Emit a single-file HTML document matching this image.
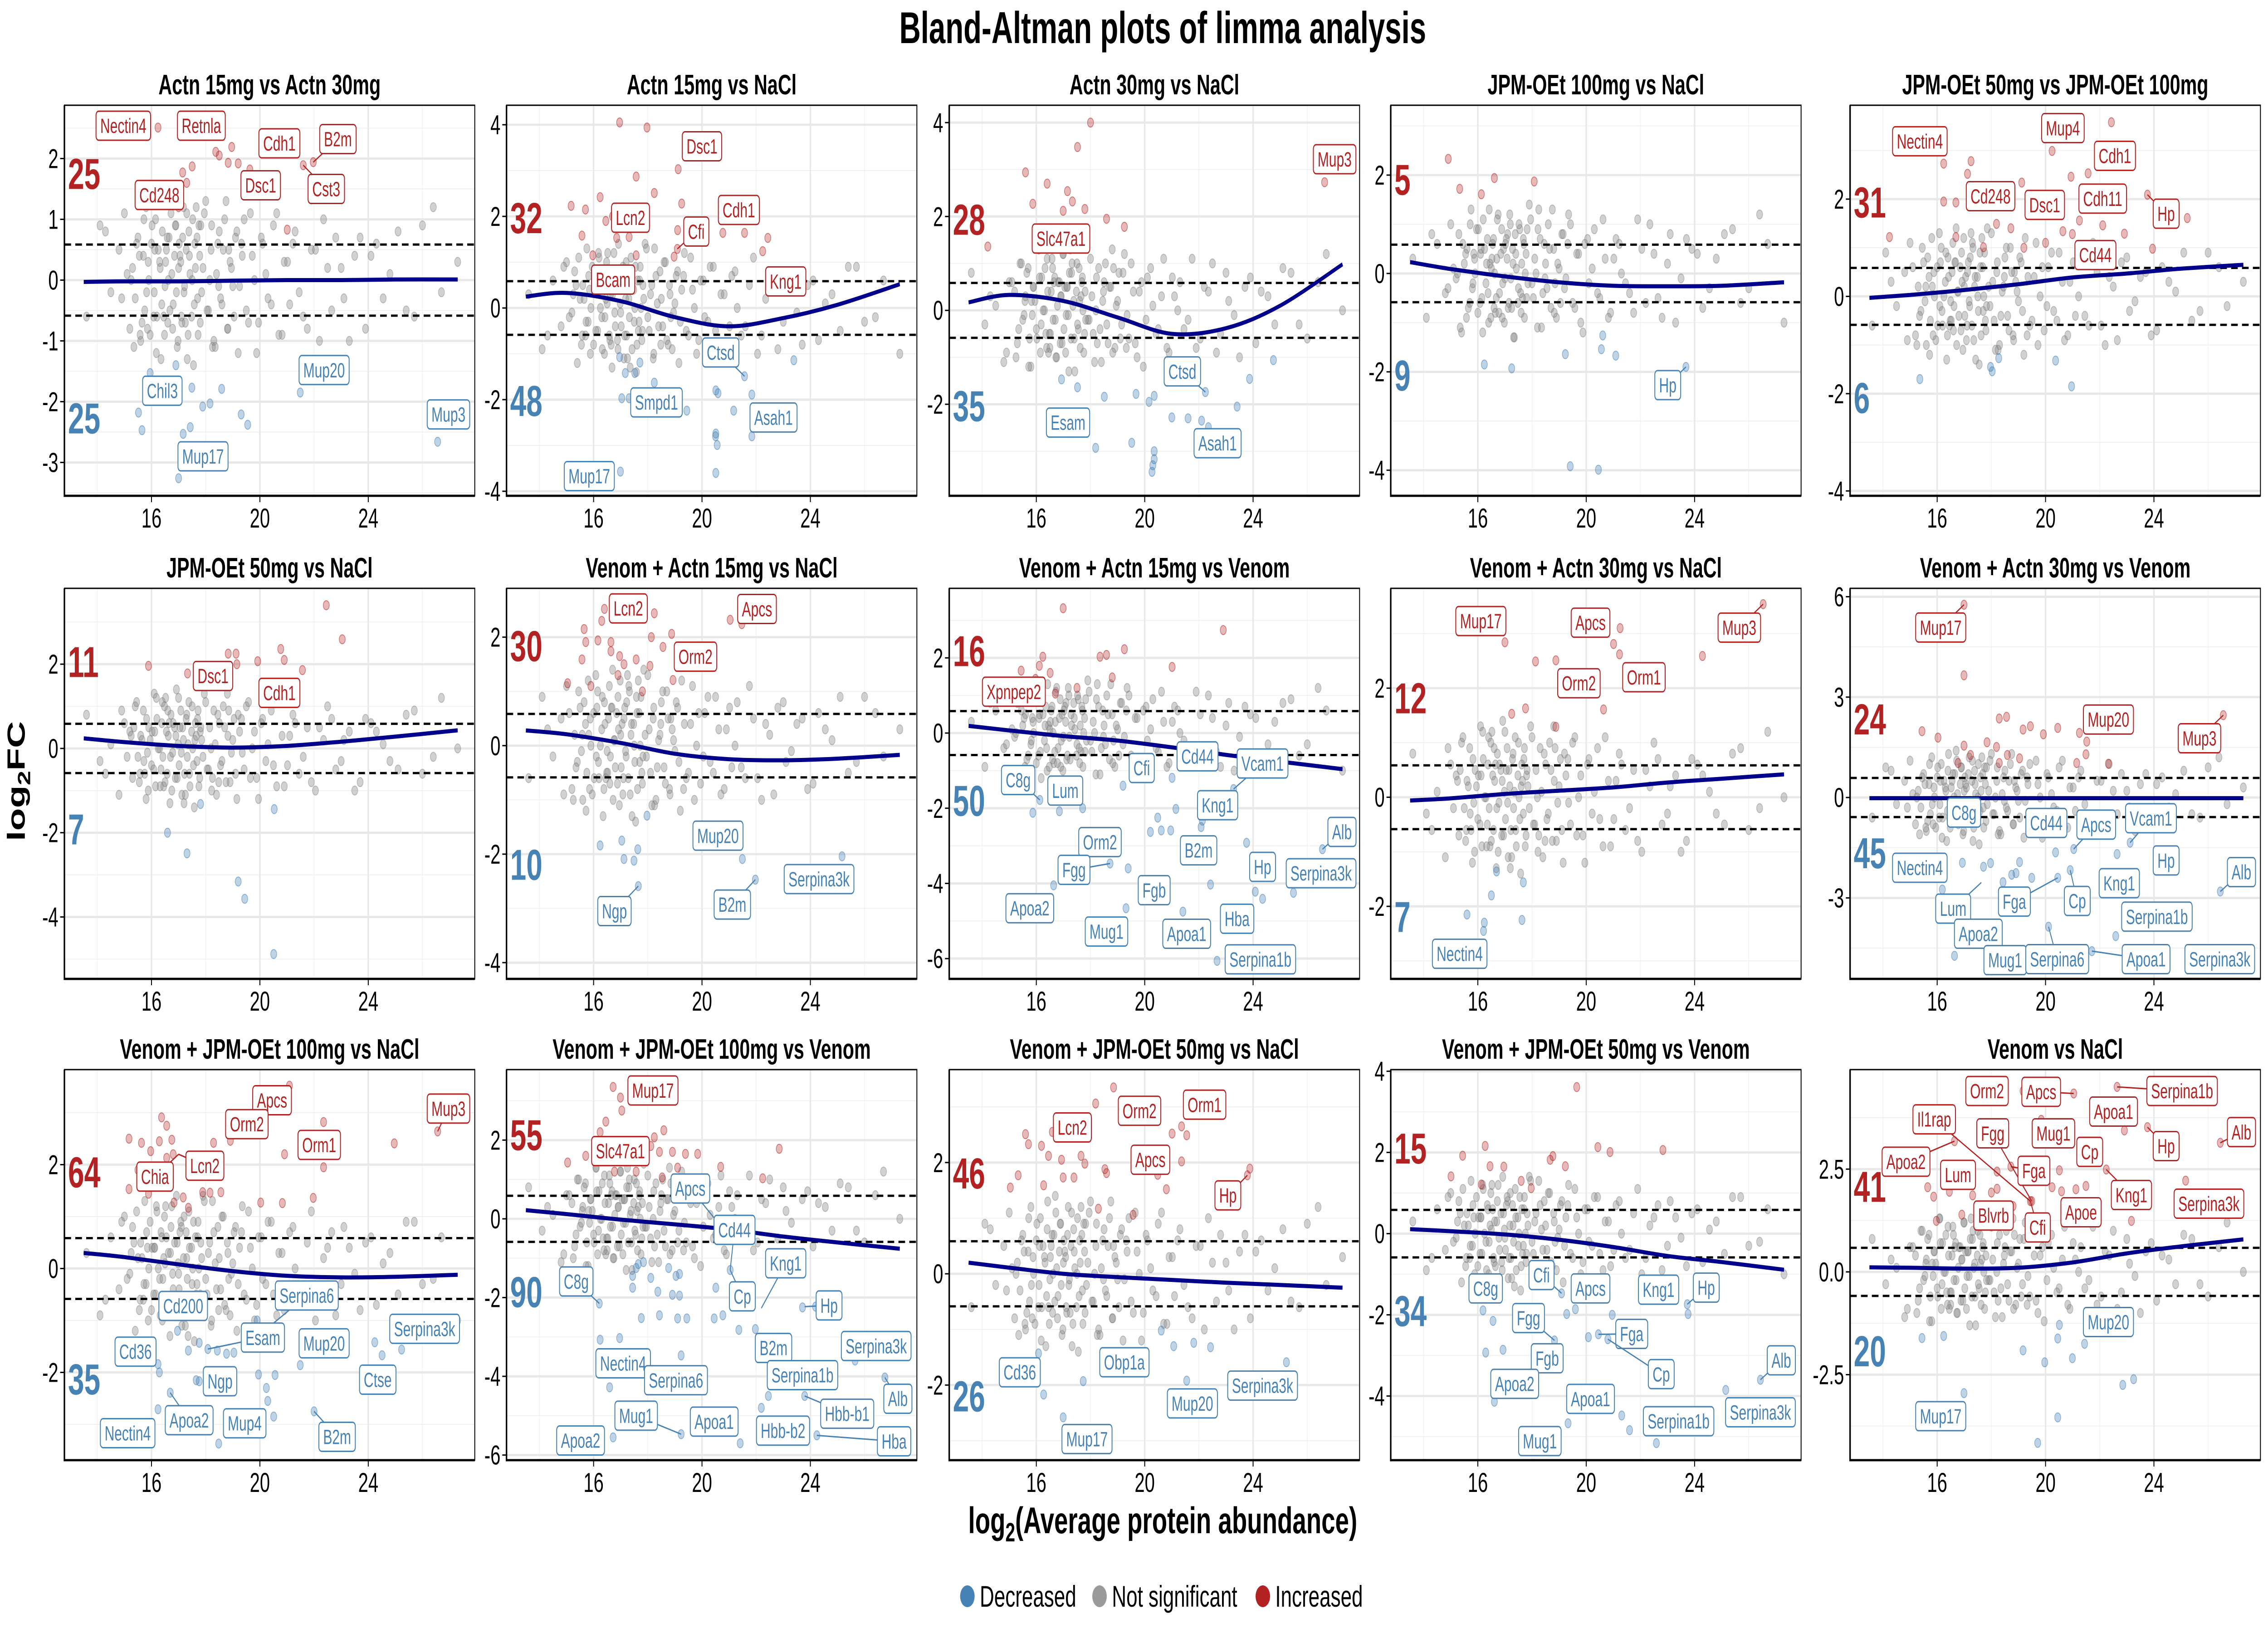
<!DOCTYPE html>
<html><head><meta charset="utf-8"><title>Bland-Altman plots of limma analysis</title>
<style>html,body{margin:0;padding:0;background:#fff;width:100%;height:100%;overflow:hidden}svg{display:block;width:100vw;height:100vh;font-family:"Liberation Sans",Arial,sans-serif}</style>
</head><body>
<svg id="chart" xmlns="http://www.w3.org/2000/svg" viewBox="0 0 7500 3600" preserveAspectRatio="none">
<rect x="0" y="0" width="7500" height="3600" fill="#fff"/>
<text x="3845" y="95" text-anchor="middle" font-size="98" font-weight="bold">Bland-Altman plots of limma analysis</text>
<text x="3845" y="3380" text-anchor="middle" font-size="82" font-weight="bold">log<tspan font-size="58" dy="18">2</tspan><tspan dy="-18">(Average protein abundance)</tspan></text>
<text transform="translate(82,1722) rotate(-90)" text-anchor="middle" font-size="82" font-weight="bold">log<tspan font-size="58" dy="18">2</tspan><tspan dy="-18">FC</tspan></text>
<g>
<circle cx="3199" cy="3519" r="24" fill="#4682B4"/>
<text x="3240" y="3542" font-size="66">Decreased</text>
<circle cx="3636" cy="3519" r="24" fill="#9a9a9a"/>
<text x="3677" y="3542" font-size="66">Not significant</text>
<circle cx="4176" cy="3519" r="24" fill="#B22222"/>
<text x="4217" y="3542" font-size="66">Increased</text>
</g>
</svg>
<script>
const titles=["Actn 15mg vs Actn 30mg","Actn 15mg vs NaCl","Actn 30mg vs NaCl","JPM-OEt 100mg vs NaCl","JPM-OEt 50mg vs JPM-OEt 100mg","JPM-OEt 50mg vs NaCl","Venom + Actn 15mg vs NaCl","Venom + Actn 15mg vs Venom","Venom + Actn 30mg vs NaCl","Venom + Actn 30mg vs Venom","Venom + JPM-OEt 100mg vs NaCl","Venom + JPM-OEt 100mg vs Venom","Venom + JPM-OEt 50mg vs NaCl","Venom + JPM-OEt 50mg vs Venom","Venom vs NaCl"];
const yDomains=[[-3.549,2.877],[-4.099,4.426],[-3.95,4.37],[-4.52,3.42],[-4.10,3.93],[-5.47,3.80],[-4.30,2.90],[-6.54,3.85],[-3.33,3.83],[-5.42,6.25],[-3.69,3.83],[-6.13,3.79],[-3.35,3.67],[-5.58,4.04],[-4.58,4.92]];
const yTicks=[[-3,-2,-1,0,1,2],[-4,-2,0,2,4],[-2,0,2,4],[-4,-2,0,2],[-4,-2,0,2],[-4,-2,0,2],[-4,-2,0,2],[-6,-4,-2,0,2],[-2,0,2],[-3,0,3,6],[-2,0,2],[-6,-4,-2,0,2],[-2,0,2],[-4,-2,0,2,4],[-2.5,0,2.5]];
const yTickLabels=[["-3","-2","-1","0","1","2"],["-4","-2","0","2","4"],["-2","0","2","4"],["-4","-2","0","2"],["-4","-2","0","2"],["-4","-2","0","2"],["-4","-2","0","2"],["-6","-4","-2","0","2"],["-2","0","2"],["-3","0","3","6"],["-2","0","2"],["-6","-4","-2","0","2"],["-2","0","2"],["-4","-2","0","2","4"],["-2.5","0.0","2.5"]];
const xTicks=[16,20,24];
const xTickLabels=["16","20","24"];
const xMinor=[14,18,22,26];
const foldLine=0.585;
const countUp=[25,32,28,5,31,11,30,16,12,24,64,55,46,15,41];
const countDown=[25,48,35,9,6,7,10,50,7,45,35,90,26,34,20];
const countUpY=[1.76,1.98,1.95,1.92,1.95,2.07,1.85,2.20,1.83,2.36,1.87,2.15,1.82,2.12,2.09];
const countDownY=[-2.26,-2.01,-2.02,-2.06,-2.07,-1.90,-2.18,-1.78,-2.18,-1.64,-2.12,-1.84,-2.19,-1.89,-1.91];
const loessX=[13.5,15,17,19,21,23,25,27.3];
const loessY=[
[-0.03,-0.02,-0.02,-0.01,0,0,0.01,0.01],
[0.25,0.33,0.15,-0.2,-0.4,-0.22,0.07,0.52],
[0.17,0.33,0.2,-0.15,-0.5,-0.38,0.1,0.98],
[0.23,0.09,-0.06,-0.18,-0.25,-0.26,-0.25,-0.18],
[-0.03,0.03,0.13,0.25,0.39,0.47,0.57,0.65],
[0.24,0.15,0.06,0.02,0.06,0.16,0.28,0.43],
[0.28,0.21,0.05,-0.15,-0.25,-0.27,-0.24,-0.17],
[0.19,0.07,-0.08,-0.2,-0.38,-0.58,-0.76,-0.96],
[-0.06,-0.02,0.06,0.12,0.18,0.27,0.34,0.42],
[-0.02,-0.02,-0.02,-0.02,-0.02,-0.02,-0.02,-0.02],
[0.30,0.22,0.08,-0.05,-0.14,-0.17,-0.16,-0.12],
[0.22,0.12,-0.02,-0.14,-0.27,-0.45,-0.6,-0.76],
[0.2,0.11,0,-0.06,-0.11,-0.16,-0.2,-0.25],
[0.11,0.06,-0.02,-0.15,-0.33,-0.55,-0.7,-0.89],
[0.11,0.1,0.08,0.1,0.23,0.45,0.62,0.79]];
const cloudX=[13.6,14.1,14.5,14.8,15.0,15.2,15.3,15.4,15.5,15.6,15.7,15.75,15.8,15.9,15.95,16.0,16.1,16.15,16.2,16.3,16.35,16.4,16.5,16.55,16.6,16.7,16.75,16.8,16.9,16.95,17.0,17.1,17.15,17.2,17.3,17.35,17.4,17.5,17.55,17.6,17.7,17.75,17.8,17.9,18.0,18.1,18.2,18.3,18.4,18.5,18.6,18.7,18.8,18.9,19.0,19.1,19.2,19.35,19.5,19.65,19.8,19.95,20.1,20.3,20.5,20.7,20.9,21.1,21.3,21.6,21.9,22.2,22.5,22.8,23.1,23.5,23.9,24.3,24.8,25.4,26.0,26.7,27.3,16.45,17.05,17.65,18.25,18.85,15.85,16.65];
const cloudX2=[14.3,14.9,15.1,15.35,15.45,15.55,15.65,15.72,15.82,15.88,16.02,16.08,16.18,16.25,16.32,16.38,16.42,16.48,16.58,16.62,16.68,16.72,16.78,16.85,16.88,16.92,16.98,17.02,17.08,17.12,17.18,17.22,17.28,17.32,17.38,17.42,17.48,17.52,17.58,17.62,17.68,17.72,17.78,17.85,17.95,18.05,18.15,18.22,18.35,18.45,18.55,18.65,18.75,18.82,18.95,19.05,19.15,19.25,19.42,19.58,19.72,19.88,20.05,20.22,20.42,20.62,20.82,21.02,21.22,21.45,21.75,22.05,22.35,22.65,23.0,23.3,23.7,24.1,24.55,25.1,25.7,26.4,15.25,15.58,16.12,16.52,17.25,17.82,18.48,19.32];
const cloudA=[-0.6,0.9,-0.2,0.5,1.1,-0.8,0.2,-0.3,0.7,-1.0,0.4,-0.5,1.2,0.0,-0.9,0.6,-0.2,1.0,-0.6,0.3,-1.3,0.8,-0.1,0.5,-0.7,1.4,0.1,-0.4,0.9,-1.1,0.2,-0.6,0.7,-0.2,1.1,-0.9,0.4,0.0,-1.4,0.6,-0.3,0.9,-0.7,0.2,1.3,-0.5,0.5,-1.0,0.1,0.8,-0.4,1.0,-0.8,0.3,-0.1,0.7,-1.2,0.4,-0.5,1.1,0.0,-0.7,0.6,-0.3,0.9,-0.9,0.3,-0.4,0.8,-0.6,0.5,-1.0,0.2,0.7,-0.3,0.4,-0.8,0.6,0.1,-0.5,0.9,-0.2,0.3,-0.6,0.4,1.2,-1.1,0.5,-0.8,0.7];
const cloudB=[0.3,-0.9,0.6,-0.4,1.0,-0.1,0.8,-1.2,0.2,0.5,-0.6,1.3,-0.3,0.0,0.9,-0.8,0.4,-0.5,1.1,-0.2,0.7,-1.0,0.1,0.6,-0.7,0.3,1.2,-0.4,-0.9,0.5,-0.1,0.8,-0.6,1.0,0.2,-1.3,0.4,-0.3,0.9,-0.8,0.6,0.0,-0.5,1.4,-0.2,0.3,-1.1,0.7,-0.4,0.2,1.0,-0.7,0.5,-0.9,0.1,0.8,-0.3,1.2,-0.6,0.4,-1.0,0.6,-0.2,0.9,-0.5,0.3,-0.8,0.7,0.0,-0.4,1.1,-0.6,0.4,-0.9,0.8,-0.1,0.5,-0.7,0.3,0.9,-0.3,0.6,-1.0,0.2,0.7,-0.5,1.3,-0.2,0.4,-0.8];
const cloudC=[0.8,-0.3,0.1,-1.1,0.6,0.4,-0.7,1.0,-0.2,0.3,0.9,-0.6,-1.2,0.5,0.2,-0.4,1.3,-0.9,0.7,0.0,-0.5,1.1,-0.8,0.4,0.9,-0.2,-1.0,0.6,0.3,-0.7,1.2,-0.1,0.5,-1.3,0.8,0.1,-0.6,1.0,-0.4,0.2,0.7,-0.9,0.4,-0.2,1.1,-0.5,0.0,0.9,-1.1,0.6,-0.3,0.5,1.3,-0.8,0.2,-0.6,0.8,-0.1,1.0,-0.7,0.4,-1.2,0.7,0.1,-0.4,1.1,-0.9,0.3,0.6,-0.2,-0.8,0.5,1.0,-0.5,0.2,-1.0,0.7,0.4,-0.3,0.8,-0.6,1.2,0.0,-0.9,0.5,0.3,-0.7,0.9,-0.1,0.6];
const clouds=[cloudA,cloudB,cloudC];
const panelCloud=[0,1,2,1,0,2,0,1,2,0,1,2,0,1,2];
const panelCloud2=[2,0,1,2,1,0,1,2,0,2,0,1,2,0,1];
const upPts=[
[16.24,2.51,18.37,2.11,18.5,2.05,18.83,1.93,19.2,1.92,17.15,1.77,17.5,1.87,21.01,0.83,17.3,1.6,21.97,1.94,21.6,1.89,19.63,1.82,18.96,2.19,17.0,1.2,17.6,2.6],
[16.96,4.05,17.97,3.94,17.57,2.87,18.24,2.51,19.12,3.03,19.25,2.28,15.17,2.23,15.7,2.15,16.24,2.42,16.45,1.9,15.57,1.58,16.85,1.53,17.31,1.55,19.1,1.7,18.97,1.12,20.77,1.64,21.57,1.64,22.43,1.53,22.24,1.24,17.57,1.15,15.97,1.15,19.09,1.29,16.7,2.0],
[18.0,4.0,17.52,3.48,15.6,2.94,16.4,2.7,17.15,2.54,17.33,2.32,16.99,2.12,15.87,2.27,17.79,2.16,18.59,1.95,19.25,1.78,14.21,1.36,26.64,2.73,16.8,1.4],
[14.91,2.33,15.33,1.72,16.13,1.61,16.61,1.94,18.08,1.87],
[22.43,3.58,20.24,2.99,17.25,2.78,16.24,2.73,17.12,2.52,19.12,2.34,21.57,2.53,20.94,2.46,16.69,1.93,16.24,1.95,18.19,1.49,18.72,1.4,21.25,1.56,22.11,1.46,20.64,1.34,20.99,1.28,22.91,1.29,14.24,1.22,16.69,1.22,17.71,1.01,23.95,0.98,25.23,1.61,23.76,2.09,19.2,1.0,20.0,1.1],
[22.45,3.4,23.04,2.59,20.77,2.36,18.83,2.25,19.12,2.25,19.92,2.07,21.57,1.86,19.15,2.0,17.33,1.78,15.89,1.96,20.9,2.1],
[16.4,2.52,16.3,2.3,15.65,2.15,18.24,2.44,21.04,2.32,21.47,2.24,18.88,2.06,18.13,2.0,15.71,1.91,16.16,1.94,16.64,1.91,16.64,1.74,16.96,1.65,17.57,1.59,17.12,1.5,18.08,1.47,18.56,1.82,18.93,1.21,15.04,1.15,15.57,1.59,16.9,1.3,17.8,1.0,15.9,1.1],
[16.99,3.32,16.24,2.03,16.11,1.79,15.44,1.66,16.51,1.6,15.97,1.44,19.25,2.23,18.59,2.08,18.35,2.03,18.8,1.48,21.01,1.76,22.9,2.74,17.5,1.2,16.7,1.05],
[26.53,3.54,17.0,2.84,18.13,2.49,18.88,2.51,21.25,3.1,21.01,2.81,21.23,2.62,24.29,2.59,20.64,1.61,17.76,1.63,17.25,1.53,18.88,1.29],
[16.99,5.76,16.99,3.65,15.44,1.98,16.03,1.79,16.99,1.55,17.23,1.27,16.77,1.03,17.84,1.65,18.29,2.36,18.56,2.41,19.17,2.03,19.44,2.13,19.92,1.89,20.45,2.08,21.25,1.93,21.52,1.67,21.49,1.29,21.15,1.03,22.32,1.01,18.59,1.27,19.04,1.17,18.29,1.03,18.19,1.51,26.56,2.46],
[16.37,2.91,16.56,2.75,15.17,2.5,15.63,2.42,16.29,2.45,16.75,2.48,15.97,2.26,16.56,2.13,15.17,1.53,15.89,1.44,16.83,1.27,17.17,1.37,17.89,1.47,18.16,1.46,18.56,1.47,17.36,1.17,18.29,2.42,18.91,2.46,20.91,2.2,22.35,1.95,22.35,2.82,24.96,2.41,21.97,1.36,20.03,1.27,20.83,1.26,21.09,3.52,26.56,2.64,16.8,2.2,17.6,1.8,15.5,1.9],
[16.72,3.35,16.99,3.08,17.04,2.75,16.45,2.47,16.24,2.2,16.29,1.7,15.71,1.6,15.04,1.43,18.59,2.25,18.24,2.07,18.11,1.85,18.43,1.7,18.91,1.7,19.39,1.65,19.84,1.65,18.53,1.05,20.69,1.32,22.24,1.03,22.85,1.78,17.57,1.2,16.77,1.2,18.19,3.1,17.3,1.5,19.1,1.3],
[18.85,3.35,18.19,3.06,15.6,2.51,15.71,2.33,16.19,2.3,16.45,2.12,16.59,2.55,17.65,2.12,16.93,2.05,17.79,1.98,18.53,1.88,18.59,1.81,16.99,1.73,17.39,1.73,16.27,1.59,15.04,1.55,15.33,1.77,18.29,1.17,19.57,1.06,21.01,2.52,21.36,2.65,21.55,2.49,21.36,2.02,20.8,1.52,20.48,1.78,23.88,1.89,23.79,1.77],
[19.65,3.61,16.27,2.16,15.44,1.92,15.01,1.41,16.45,1.66,16.96,1.65,16.13,1.21,17.97,1.12,18.67,1.82,18.77,1.91,19.23,1.66,20.43,2.13,20.88,2.01,22.83,2.06,17.6,1.3],
[19.17,4.4,21.04,4.34,22.64,4.5,26.45,3.14,23.76,3.52,16.64,3.18,19.84,3.7,21.84,3.65,22.91,3.44,20.51,2.47,22.24,2.49,25.17,2.22,18.72,2.56,15.65,2.06,16.45,1.95,15.87,1.83,18.21,2.44,19.44,1.72,18.21,2.02,18.0,1.93,20.24,2.06,20.59,1.96,21.12,2.01,21.49,2.09,19.49,1.72,16.91,1.39,15.97,1.24,23.17,1.24,17.31,1.86,17.6,1.4,18.8,1.6]];
const downPts=[
[15.95,-1.53,21.49,-1.85,17.0,-3.26,26.56,-2.66,15.52,-2.18,15.65,-2.47,17.17,-2.53,17.43,-2.42,17.89,-2.08,18.16,-2.03,19.31,-2.21,19.55,-2.38,18.59,-1.79,17.49,-1.77,16.9,-1.4],
[16.96,-1.07,17.71,-1.19,17.17,-1.42,17.52,-1.42,18.24,-1.63,17.04,-1.97,19.44,-2.24,20.51,-1.8,20.59,-1.86,20.51,-2.74,20.56,-2.99,21.84,-2.8,21.17,-2.24,23.39,-1.14,20.51,-3.6,20.5,-2.8,21.57,-1.49,21.84,-1.89,16.99,-3.57,17.31,-1.97],
[17.52,-1.64,18.51,-1.84,16.93,-1.47,19.52,-2.82,18.19,-2.93,19.68,-1.78,20.35,-1.82,20.16,-1.95,21.0,-2.28,21.6,-2.3,22.1,-2.35,23.41,-2.05,23.87,-1.46,24.75,-1.06,20.35,-3.0,20.35,-3.17,20.3,-3.3,20.27,-3.44,22.24,-1.74,22.35,-2.49],
[16.24,-1.85,17.25,-1.93,19.23,-1.64,20.56,-1.54,21.09,-1.67,20.61,-1.26,19.41,-3.92,20.45,-3.99,23.68,-1.9],
[15.36,-1.7,18.27,-1.27,17.97,-1.45,18.03,-1.54,20.37,-1.32,20.96,-1.85],
[17.81,-1.32,16.59,-2.0,17.31,-2.49,19.2,-3.16,19.44,-3.57,20.53,-1.44,20.51,-4.88],
[16.24,-1.84,17.04,-1.75,17.63,-1.91,17.97,-1.29,17.12,-2.09,17.49,-2.12,17.65,-2.59,21.49,-2.09,21.97,-2.47,25.17,-2.04],
[16.13,-1.78,16.85,-2.08,15.87,-2.12,17.71,-2.0,19.2,-1.4,19.39,-3.6,19.31,-4.66,16.64,-4.05,18.72,-3.47,20.21,-2.63,20.61,-2.59,20.96,-2.59,20.48,-2.25,21.15,-2.02,22.08,-2.5,22.13,-2.33,23.76,-2.92,24.35,-4.41,24.08,-4.22,25.49,-4.25,22.67,-6.06,21.41,-4.75,22.43,-4.03,20.21,-1.19,21.01,-1.19,26.56,-3.09,23.28,-1.49],
[15.6,-2.15,16.24,-2.3,16.21,-2.45,17.63,-2.25,16.69,-1.36,17.68,-1.56,16.5,-1.8],
[16.93,-1.95,17.97,-1.96,17.71,-2.07,20.37,-1.64,20.45,-2.4,20.91,-2.17,21.04,-1.54,23.12,-1.35,26.45,-2.81,19.49,-2.4,19.04,-1.93,18.91,-2.26,18.75,-2.31,18.43,-2.53,16.19,-2.75,16.64,-4.73,22.59,-4.14,20.11,-3.86,22.64,-1.69,21.71,-4.59],
[16.96,-1.2,17.36,-1.58,17.76,-1.43,18.08,-1.55,18.43,-1.58,18.77,-1.64,19.04,-1.62,16.24,-1.84,16.29,-2.0,17.65,-2.15,17.76,-2.17,19.95,-2.04,20.56,-2.05,20.29,-2.55,20.24,-2.3,21.49,-1.86,25.23,-1.56,24.51,-1.67,24.24,-1.42,16.24,-2.71,18.48,-3.37,20.51,-2.85,22.0,-2.75,16.69,-2.39,19.9,-1.0],
[17.44,-1.75,17.65,-1.15,17.84,-1.1,17.57,-1.25,18.11,-1.5,18.77,-1.25,19.04,-1.45,19.17,-1.4,17.44,-1.45,18.37,-1.85,18.91,-1.93,19.17,-1.95,17.76,-2.52,18.43,-2.45,19.1,-2.53,19.44,-2.53,20.45,-2.53,20.77,-2.45,21.36,-2.82,21.97,-2.8,20.51,-1.75,16.21,-2.15,16.24,-3.07,16.96,-3.03,16.59,-4.28,19.23,-3.47,21.04,-1.3,24.19,-2.23,23.71,-2.25,26.75,-4.03,23.79,-4.5,22.45,-4.5,22.19,-4.8,19.23,-5.47,16.72,-5.55,21.41,-5.7,24.24,-5.5,25.65,-3.6],
[16.08,-1.43,16.27,-2.17,16.99,-2.58,17.73,-1.93,20.61,-1.02,21.07,-1.3,21.81,-1.24,22.43,-1.32,21.55,-1.92,25.23,-1.59],
[19.09,-1.47,16.19,-1.89,16.56,-2.15,19.28,-1.98,19.6,-1.86,22.24,-1.62,23.76,-1.98,20.45,-2.48,20.8,-2.6,20.08,-2.55,18.83,-2.63,16.29,-2.93,16.93,-2.86,16.61,-4.14,19.33,-4.67,21.31,-4.48,21.6,-4.84,22.59,-5.16,25.15,-3.85,26.43,-3.6,20.96,-2.0,23.73,-1.74],
[15.44,-1.61,16.24,-1.56,19.17,-1.91,19.97,-2.2,20.51,-1.29,20.45,-1.62,20.99,-2.1,21.44,-1.75,16.99,-2.95,22.85,-2.75,23.25,-2.61,20.45,-3.54,19.71,-4.16]];
const N=null;
const labels=[
[["Nectin4",14.96,2.54,N,N,1],["Retnla",17.84,2.54,N,N,1],["Cdh1",20.72,2.25,N,N,1],["B2m",22.88,2.32,21.97,1.94,1],["Dsc1",20.03,1.56,N,N,1],["Cst3",22.45,1.5,21.6,1.89,1],["Cd248",16.29,1.4,N,N,1],["Chil3",16.4,-1.82,N,N,0],["Mup20",22.37,-1.48,N,N,0],["Mup17",17.9,-2.9,N,N,0],["Mup3",26.96,-2.21,N,N,0]],
[["Dsc1",20.0,3.53,N,N,1],["Lcn2",17.36,1.97,N,N,1],["Cdh1",21.36,2.14,N,N,1],["Cfi",19.79,1.67,19.09,1.29,1],["Bcam",16.72,0.62,N,N,1],["Kng1",23.09,0.58,N,N,1],["Ctsd",20.69,-0.97,21.57,-1.49,0],["Smpd1",18.32,-2.06,N,N,0],["Asah1",22.64,-2.39,N,N,0],["Mup17",15.84,-3.67,N,N,0]],
[["Slc47a1",16.91,1.53,N,N,1],["Mup3",27.01,3.22,N,N,1],["Esam",17.17,-2.39,N,N,0],["Ctsd",21.39,-1.3,22.24,-1.74,0],["Asah1",22.69,-2.83,N,N,0]],
[["Hp",23.01,-2.27,23.68,-1.9,0]],
[["Nectin4",15.36,3.19,N,N,1],["Mup4",20.64,3.46,N,N,1],["Cdh1",22.56,2.89,N,N,1],["Cd248",17.97,2.06,N,N,1],["Dsc1",19.97,1.88,N,N,1],["Cdh11",22.11,2.01,N,N,1],["Hp",24.45,1.7,23.76,2.09,1],["Cd44",21.84,0.85,N,N,1]],
[["Dsc1",18.27,1.72,N,N,1],["Cdh1",20.72,1.32,N,N,1]],
[["Lcn2",17.28,2.53,N,N,1],["Apcs",22.03,2.52,N,N,1],["Orm2",19.76,1.64,N,N,1],["Mup20",20.59,-1.66,N,N,0],["Ngp",16.77,-3.05,17.65,-2.59,0],["B2m",21.12,-2.93,21.97,-2.47,0],["Serpina3k",24.32,-2.46,N,N,0]],
[["Xpnpep2",15.17,1.1,N,N,1],["C8g",15.33,-1.25,16.13,-1.78,0],["Lum",17.07,-1.53,N,N,0],["Cfi",19.89,-0.93,N,N,0],["Cd44",21.95,-0.62,N,N,0],["Vcam1",24.35,-0.81,23.28,-1.49,0],["Orm2",18.35,-2.9,N,N,0],["Fgg",17.39,-3.64,18.72,-3.47,0],["Kng1",22.69,-1.92,N,N,0],["B2m",21.99,-3.12,N,N,0],["Hp",24.35,-3.56,N,N,0],["Alb",27.28,-2.63,26.56,-3.09,0],["Serpina3k",26.51,-3.73,N,N,0],["Fgb",20.35,-4.18,N,N,0],["Hba",23.41,-4.94,N,N,0],["Apoa2",15.76,-4.66,N,N,0],["Apoa1",21.55,-5.34,N,N,0],["Mug1",18.59,-5.28,N,N,0],["Serpina1b",24.27,-6.02,N,N,0]],
[["Mup17",16.11,3.23,N,N,1],["Apcs",20.16,3.2,N,N,1],["Mup3",25.65,3.11,26.53,3.54,1],["Orm2",19.73,2.09,N,N,1],["Orm1",22.13,2.2,N,N,1],["Nectin4",15.33,-2.87,N,N,0]],
[["Mup17",16.13,5.08,16.99,5.76,1],["Mup20",22.32,2.33,N,N,1],["Mup3",25.68,1.77,26.56,2.46,1],["C8g",16.99,-0.45,N,N,0],["Cd44",20.03,-0.76,N,N,0],["Apcs",21.87,-0.81,21.04,-1.54,0],["Vcam1",23.89,-0.62,23.12,-1.35,0],["Nectin4",15.36,-2.1,N,N,0],["Hp",24.45,-1.88,N,N,0],["Alb",27.23,-2.23,26.45,-2.81,0],["Kng1",22.72,-2.56,N,N,0],["Fga",18.85,-3.11,20.45,-2.4,0],["Cp",21.17,-3.09,20.91,-2.17,0],["Lum",16.59,-3.32,17.63,-2.54,0],["Serpina1b",24.11,-3.56,N,N,0],["Apoa2",17.52,-4.07,N,N,0],["Mug1",18.51,-4.86,N,N,0],["Serpina6",20.43,-4.83,20.11,-3.86,0],["Apoa1",23.71,-4.83,21.71,-4.59,0],["Serpina3k",26.43,-4.83,N,N,0]],
[["Apcs",20.45,3.24,N,N,1],["Orm2",19.52,2.78,N,N,1],["Mup3",26.96,3.08,26.56,2.64,1],["Orm1",22.19,2.38,N,N,1],["Lcn2",17.97,1.98,17.0,2.2,1],["Chia",16.13,1.77,17.0,2.2,1],["Cd200",17.17,-0.72,N,N,0],["Serpina6",21.73,-0.52,20.51,-1.05,0],["Esam",20.11,-1.33,18.08,-1.55,0],["Cd36",15.41,-1.6,N,N,0],["Mup20",22.37,-1.44,N,N,0],["Serpina3k",26.08,-1.16,N,N,0],["Ngp",18.53,-2.17,N,N,0],["Ctse",24.35,-2.14,N,N,0],["Apoa2",17.39,-2.92,16.69,-2.39,0],["Mup4",19.44,-2.98,N,N,0],["Nectin4",15.12,-3.17,N,N,0],["B2m",22.85,-3.24,22.0,-2.75,0]],
[["Mup17",18.19,3.26,N,N,1],["Slc47a1",16.99,1.72,N,N,1],["Apcs",19.57,0.77,20.77,-0.25,0],["Cd44",21.2,-0.28,21.04,-1.3,0],["C8g",15.36,-1.59,16.21,-2.15,0],["Kng1",23.09,-1.13,22.19,-2.27,0],["Cp",21.49,-1.97,21.04,-1.3,0],["Hp",24.69,-2.2,23.79,-2.23,0],["B2m",22.64,-3.28,N,N,0],["Serpina3k",26.43,-3.23,N,N,0],["Nectin4",17.09,-3.67,N,N,0],["Serpina6",19.04,-4.1,N,N,0],["Serpina1b",23.71,-3.97,N,N,0],["Alb",27.23,-4.57,26.75,-4.03,0],["Hbb-b1",25.36,-4.95,23.79,-4.5,0],["Mug1",17.57,-5.0,19.23,-5.47,0],["Apoa1",20.45,-5.15,N,N,0],["Hbb-b2",22.99,-5.38,N,N,0],["Hba",27.09,-5.65,24.24,-5.5,0],["Apoa2",15.52,-5.63,N,N,0]],
[["Lcn2",17.33,2.63,N,N,1],["Orm2",19.81,2.93,N,N,1],["Orm1",22.21,3.04,N,N,1],["Apcs",20.21,2.05,N,N,1],["Hp",23.07,1.41,23.79,1.77,1],["Cd36",15.39,-1.77,N,N,0],["Obp1a",19.25,-1.59,N,N,0],["Mup17",17.87,-2.97,N,N,0],["Mup20",21.76,-2.33,N,N,0],["Serpina3k",24.35,-2.01,N,N,0]],
[["Cfi",18.35,-1.02,19.09,-1.47,0],["C8g",16.29,-1.35,N,N,0],["Apcs",20.16,-1.35,N,N,0],["Kng1",22.67,-1.38,N,N,0],["Hp",24.43,-1.33,23.73,-1.74,0],["Fgg",17.87,-2.08,18.83,-2.63,0],["Fga",21.68,-2.47,20.45,-2.48,0],["Fgb",18.56,-3.07,N,N,0],["Cp",22.77,-3.46,20.8,-2.6,0],["Alb",27.2,-3.12,26.43,-3.6,0],["Apoa2",17.36,-3.7,N,N,0],["Apoa1",20.16,-4.07,N,N,0],["Serpina1b",23.41,-4.62,N,N,0],["Serpina3k",26.43,-4.4,N,N,0],["Mug1",18.29,-5.11,N,N,0]],
[["Orm2",17.84,4.4,N,N,1],["Apcs",19.84,4.38,21.04,4.34,1],["Serpina1b",25.04,4.4,22.64,4.5,1],["Il1rap",15.89,3.71,19.44,1.72,1],["Apoa1",22.51,3.9,N,N,1],["Alb",27.23,3.4,26.45,3.14,1],["Fgg",18.05,3.37,19.49,1.72,1],["Mug1",20.29,3.37,N,N,1],["Cp",21.63,2.92,N,N,1],["Hp",24.45,3.06,23.76,3.52,1],["Apoa2",14.85,2.68,16.64,3.18,1],["Lum",16.77,2.36,N,N,1],["Fga",19.57,2.46,18.72,2.56,1],["Kng1",23.17,1.87,22.24,2.49,1],["Serpina3k",26.03,1.66,N,N,1],["Blvrb",18.08,1.37,N,N,1],["Apoe",21.31,1.45,N,N,1],["Cfi",19.71,1.08,19.44,1.72,1],["Mup20",22.32,-1.22,N,N,0],["Mup17",16.13,-3.51,N,N,0]]];

const NS='http://www.w3.org/2000/svg';
const svg=document.getElementById('chart');
const colLeft=[213,1675,3139,4599,6118], rowTop=[232,1297,2358], PW=1357, PH=861;
const RED='#B22222', BLUE='#4682B4';
function mk(tag,attrs,parent){const e=document.createElementNS(NS,tag);for(const k in attrs)e.setAttribute(k,attrs[k]);parent.appendChild(e);return e;}
function smooth(pts){let d='M'+pts[0][0].toFixed(1)+','+pts[0][1].toFixed(1);for(let i=0;i<pts.length-1;i++){const p0=pts[i-1]||pts[i],p1=pts[i],p2=pts[i+1],p3=pts[i+2]||p2;const c1=[p1[0]+(p2[0]-p0[0])/6,p1[1]+(p2[1]-p0[1])/6],c2=[p2[0]-(p3[0]-p1[0])/6,p2[1]-(p3[1]-p1[1])/6];d+=' C'+c1[0].toFixed(1)+','+c1[1].toFixed(1)+' '+c2[0].toFixed(1)+','+c2[1].toFixed(1)+' '+p2[0].toFixed(1)+','+p2[1].toFixed(1);}return d;}

for(let p=0;p<15;p++){
  const L=colLeft[p%5], T=rowTop[Math.floor(p/5)];
  const [y0,y1]=yDomains[p];
  const xs=x=>L+288+(x-16)*89.6;
  const ys=y=>T+(y1-y)/(y1-y0)*PH;
  const g=mk('g',{},svg);
  
  
  const cp=mk('clipPath',{id:'clip'+p},g);
  mk('rect',{x:L,y:T,width:PW,height:PH},cp);
  const title=mk('text',{x:L+PW/2,y:T-24,'text-anchor':'middle','font-size':62,'font-weight':'bold'},g);
  
  
  title.textContent=titles[p];
  const grid=mk('g',{'clip-path':'url(#clip'+p+')'},g);
  
  
  const tk=yTicks[p], step=tk[1]-tk[0];
  const minors=[];
  for(let v=tk[0]-step/2; v<=tk[tk.length-1]+step/2+1e-9; v+=step) if(v>y0&&v<y1) minors.push(v);
  minors.forEach(v=>{const l=mk('line',{x1:L,x2:L+PW,y1:ys(v),y2:ys(v),stroke:'#f0f0f0','stroke-width':2},grid);});
  xMinor.forEach(v=>{const l=mk('line',{x1:xs(v),x2:xs(v),y1:T,y2:T+PH,stroke:'#f0f0f0','stroke-width':2},grid);});
  tk.forEach(v=>{const l=mk('line',{x1:L,x2:L+PW,y1:ys(v),y2:ys(v),stroke:'#e8e8e8','stroke-width':5},grid);});
  xTicks.forEach(v=>{const l=mk('line',{x1:xs(v),x2:xs(v),y1:T,y2:T+PH,stroke:'#e8e8e8','stroke-width':5},grid);});
  const pts=mk('g',{'clip-path':'url(#clip'+p+')'},g);
  
  
  const cy=clouds[panelCloud[p]];
  for(let i=0;i<cloudX.length;i++){const c=mk('circle',{cx:xs(cloudX[i]).toFixed(1),cy:ys(cy[i]).toFixed(1),r:10,fill:'rgba(140,140,140,0.4)',stroke:'rgba(110,110,110,0.4)','stroke-width':2},pts);}
  const cy2=clouds[panelCloud2[p]];
  for(let i=0;i<cloudX2.length;i++){const c=mk('circle',{cx:xs(cloudX2[i]).toFixed(1),cy:ys(cy2[i]).toFixed(1),r:10,fill:'rgba(140,140,140,0.4)',stroke:'rgba(110,110,110,0.4)','stroke-width':2},pts);}
  const dp=downPts[p];
  for(let i=0;i<dp.length;i+=2){const c=mk('circle',{cx:xs(dp[i]).toFixed(1),cy:ys(dp[i+1]).toFixed(1),r:10,fill:'rgba(70,130,180,0.35)',stroke:'rgba(70,130,180,0.55)','stroke-width':2},pts);}
  const up=upPts[p];
  for(let i=0;i<up.length;i+=2){const c=mk('circle',{cx:xs(up[i]).toFixed(1),cy:ys(up[i+1]).toFixed(1),r:10,fill:'rgba(178,34,34,0.32)',stroke:'rgba(178,34,34,0.55)','stroke-width':2},pts);}
  [foldLine,-foldLine].forEach(v=>{const l=mk('line',{x1:L,x2:L+PW,y1:ys(v),y2:ys(v),stroke:'#000','stroke-width':5,'stroke-dasharray':'22 14'},g);});
  const lp=loessX.map((x,i)=>[xs(x),ys(loessY[p][i])]);
  const path=mk('path',{d:smooth(lp),fill:'none',stroke:'#00008B','stroke-width':9,'stroke-linecap':'butt'},g);
  
  
  const lg=mk('g',{},g);
  
  
  labels[p].forEach(lb=>{
    const col=lb[5]?RED:BLUE, bx=xs(lb[1]), by=ys(lb[2]);
    if(lb[3]!==null){const s=mk('line',{x1:xs(lb[3]),y1:ys(lb[4]),x2:bx,y2:by,stroke:col,'stroke-width':3},lg);}
    const box=mk('rect',{x:bx-40,y:by-32,width:80,height:64,rx:9,fill:'#fff',stroke:col,'stroke-width':3},lg);
    
    
    const t=mk('text',{x:bx,y:by+16,'text-anchor':'middle','font-size':45,fill:col},lg);
    
    
    t.textContent=lb[0];
    const w=t.getComputedTextLength()+28;
    box.setAttribute('x',(bx-w/2).toFixed(1));
    box.setAttribute('width',w.toFixed(1));
  });
  const cu=mk('text',{x:L+12,y:ys(countUpY[p])+35,'font-size':96,'font-weight':'bold',fill:RED},g);
  
  
  cu.textContent=countUp[p];
  const cd=mk('text',{x:L+12,y:ys(countDownY[p])+35,'font-size':96,'font-weight':'bold',fill:BLUE},g);
  
  
  cd.textContent=countDown[p];
  const fr=mk('rect',{x:L,y:T,width:PW,height:PH,fill:'none',stroke:'#000','stroke-width':3},g);
  
  
  const ax=mk('path',{d:'M'+L+','+T+' V'+(T+PH)+' H'+(L+PW),fill:'none',stroke:'#000','stroke-width':5},g);
  
  
  const yax=mk('g',{},g);
  
  
  tk.forEach((v,i)=>{
    const m=mk('line',{x1:L-14,x2:L,y1:ys(v),y2:ys(v),stroke:'#000','stroke-width':3},yax);
    
    const t=mk('text',{x:L-20,y:ys(v)+21,'text-anchor':'end','font-size':60},yax);
    
    t.textContent=yTickLabels[p][i];
  });
  const xax=mk('g',{},g);
  
  
  xTicks.forEach((v,i)=>{
    const m=mk('line',{x1:xs(v),x2:xs(v),y1:T+PH,y2:T+PH+14,stroke:'#000','stroke-width':3},xax);
    
    const t=mk('text',{x:xs(v),y:T+PH+70,'text-anchor':'middle','font-size':60},xax);
    
    t.textContent=xTickLabels[i];
  });
}
</script>
</body></html>
